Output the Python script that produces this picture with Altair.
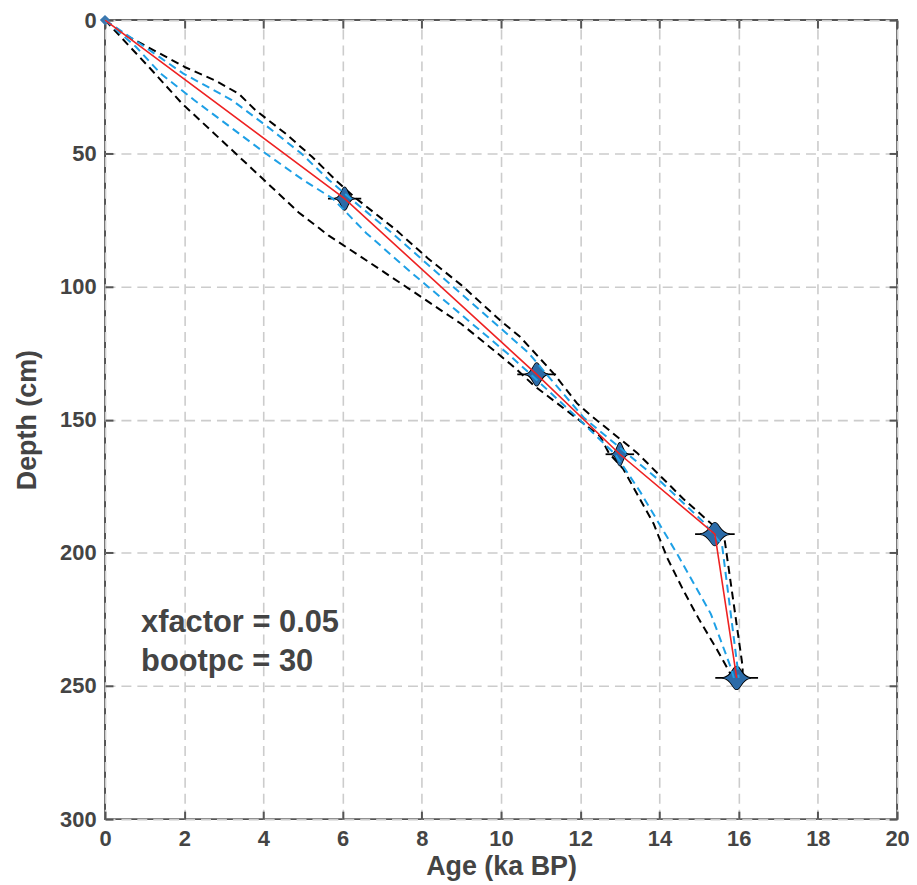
import altair as alt
import pandas as pd

# ---------------- data ----------------
# median age-depth model (red)
median_age = [0, 6.05, 10.9, 13.0, 15.4, 15.95]
median_depth = [0, 67, 133, 163, 193, 247]

# outer bootstrap bounds (black dashed)
outer_max_age = [0, 0.49, 2.04, 2.79, 3.38, 3.80, 4.55, 5.22, 5.89, 6.31, 7.31, 8.15, 8.99, 10.0, 10.48,
                 11.33, 11.92, 12.25, 13.43, 14.6, 15.35, 15.64, 16.1, 16.1]
outer_max_depth = [0, 5.4, 17.8, 22.7, 27.7, 33.8, 42.5, 51.2, 61, 66.6, 78.3, 89.4, 99.4, 113, 118.9,
                   132.7, 143.9, 148.2, 162.4, 179.7, 189.6, 194.5, 242.7, 247]
outer_min_age = [0, 1.12, 1.95, 3.38, 4.89, 5.64, 6.65, 7.65, 8.99, 9.83, 10.33, 10.83, 11.42, 12.5, 12.72,
                 13.09, 13.4, 13.85, 14.2, 14.6, 15.0, 15.44, 15.72, 15.85]
outer_min_depth = [0, 17.8, 31.4, 51.2, 72.2, 80.8, 90.7, 100.6, 114, 124.1, 130.3, 137.2, 143.9, 156.2, 162.5,
                   168.6, 177, 189, 202, 214, 225, 236, 243.5, 247]

# inner bootstrap bounds (blue dashed)
inner_max_age = [0, 1.0, 1.97, 3.2, 4.1, 4.95, 5.65, 6.2, 7.25, 8.4, 9.55, 10.7, 11.15, 12.1, 13.2, 14.05,
                 15.1, 15.58, 15.98, 16.0]
inner_max_depth = [0, 10, 20, 30, 40, 50, 60, 67, 80, 95, 110, 125, 133, 149.4, 163, 173.5,
                   188.3, 197, 244, 247]
inner_min_age = [0, 0.78, 1.4, 2.25, 3.15, 4.05, 5.0, 5.75, 6.6, 7.75, 8.95, 10.15, 10.75, 11.98, 12.88,
                 13.51, 14.47, 15.3, 15.8, 15.88]
inner_min_depth = [0, 10, 20, 30, 40, 50, 60, 67, 80, 95, 110, 125, 133, 150, 163,
                   177, 201, 223, 243, 247]

# dated levels
date_age = [6.05, 10.9, 13.0, 15.4, 15.95]
date_depth = [67, 133, 163, 193, 247]
date_err = [0.42, 0.49, 0.36, 0.5, 0.54]
date_shape_ratio = [0.85, 1.0, 0.75, 1.3, 1.25]
surface_age = [0]
surface_depth = [0]

# annotation
note_text = ["xfactor = 0.05", "bootpc = 30"]
note_age = [0.91, 0.91]
note_depth = [229.8, 244.2]

# ---------------- styles ----------------
FONT = "Liberation Sans"
TXT = "#444444"
AX = "#555555"

xs = alt.Scale(domain=[0, 20], nice=False, zero=False)
ys = alt.Scale(domain=[0, 300], reverse=True, nice=False, zero=False)


def lines_df(pairs):
    rows = []
    for name, ages, depths in pairs:
        for i, (a, d) in enumerate(zip(ages, depths)):
            rows.append({"series": name, "i": i, "age": a, "depth": d})
    return pd.DataFrame(rows)


df_outer = lines_df([("omax", outer_max_age, outer_max_depth), ("omin", outer_min_age, outer_min_depth)])
df_inner = lines_df([("imax", inner_max_age, inner_max_depth), ("imin", inner_min_age, inner_min_depth)])
df_med = lines_df([("med", median_age, median_depth)])

df_dates = pd.DataFrame({
    "id": [str(k) for k in range(len(date_age))],
    "age": date_age, "depth": date_depth,
    "lo": [a - e for a, e in zip(date_age, date_err)],
    "hi": [a + e for a, e in zip(date_age, date_err)],
})


def blob(w, h=1.0):
    return (f"M{-w},0 C{-0.35*w},{-0.06*h} {-0.28*w},{-h} 0,{-h} C{0.28*w},{-h} {0.35*w},{-0.06*h} {w},0 "
            f"C{0.35*w},{0.06*h} {0.28*w},{h} 0,{h} C{-0.28*w},{h} {-0.35*w},{0.06*h} {-w},0 Z")


def core(w, h):
    return (f"M{-w},0 C{-0.6*w},{-0.3*h} {-0.35*w},{-h} 0,{-h} C{0.35*w},{-h} {0.6*w},{-0.3*h} {w},0 "
            f"C{0.6*w},{0.3*h} {0.35*w},{h} 0,{h} C{-0.35*w},{h} {-0.6*w},{0.3*h} {-w},0 Z")


outer_paths = [blob(r) for r in date_shape_ratio]
inner_paths = [core(0.38 * r, 0.9) for r in date_shape_ratio]
ids = list(df_dates["id"])

df_surface = pd.DataFrame({"age": surface_age, "depth": surface_depth})
df_note = pd.DataFrame({"text": note_text, "age": note_age, "depth": note_depth})

lab = dict(labelFont=FONT, labelFontSize=22, labelFontWeight="bold", labelColor=TXT,
           titleFont=FONT, titleFontSize=27, titleFontWeight="bold", titleColor=TXT)
tick = dict(domain=False, ticks=True, tickSize=8, tickWidth=2, tickColor=AX, offset=-8)
grid = dict(grid=True, gridColor="#cccccc", gridDash=[10, 6], gridWidth=1.6)

x_bottom = alt.Axis(orient="bottom", values=list(range(0, 21, 2)), labelFlush=False, labelPadding=10,
                    title="Age (ka BP)", titlePadding=4, **grid, **tick, **lab)
y_left = alt.Axis(orient="left", values=list(range(0, 301, 50)), labelFlush=False, labelPadding=9,
                  title="Depth (cm)", titlePadding=18, **grid, **tick, **lab)
x_top = alt.Axis(orient="top", values=list(range(0, 21, 2)), labels=False, grid=False, title="", **tick)
y_right = alt.Axis(orient="right", values=list(range(0, 301, 50)), labels=False, grid=False, title="", **tick)

# ---------------- layers ----------------
err = alt.Chart(df_dates).mark_rule(color="black", strokeWidth=1.8).encode(
    x=alt.X("lo:Q", scale=xs, axis=None), x2="hi:Q", y=alt.Y("depth:Q", scale=ys, axis=None))

outer_blob = alt.Chart(df_dates).mark_point(filled=True, fill="#8dbbe3", stroke="black", strokeWidth=1.6,
                                            opacity=1, size=520).encode(
    x=alt.X("age:Q", scale=xs, axis=None), y=alt.Y("depth:Q", scale=ys, axis=None),
    shape=alt.Shape("id:N", scale=alt.Scale(domain=ids, range=outer_paths), legend=None))

inner_blob = alt.Chart(df_dates).mark_point(filled=True, fill="#2c6ba8", strokeWidth=0, opacity=1,
                                            size=520).encode(
    x=alt.X("age:Q", scale=xs, axis=None), y=alt.Y("depth:Q", scale=ys, axis=None),
    shape=alt.Shape("id:N", scale=alt.Scale(domain=ids, range=inner_paths), legend=None))

surface = alt.Chart(df_surface).mark_point(shape="diamond", filled=True, color="#3b78b0", opacity=1,
                                           size=110).encode(
    x=alt.X("age:Q", scale=xs, axis=None), y=alt.Y("depth:Q", scale=ys, axis=None))

outer_lines = alt.Chart(df_outer).mark_line(color="black", strokeDash=[8, 5], strokeWidth=2).encode(
    x=alt.X("age:Q", scale=xs, axis=x_bottom), y=alt.Y("depth:Q", scale=ys, axis=y_left),
    detail="series:N", order="i:Q")

inner_lines = alt.Chart(df_inner).mark_line(color="#1ea0e6", strokeDash=[8, 5], strokeWidth=2).encode(
    x=alt.X("age:Q", scale=xs, axis=None), y=alt.Y("depth:Q", scale=ys, axis=None),
    detail="series:N", order="i:Q")

med_line = alt.Chart(df_med).mark_line(color="#ee2222", strokeWidth=1.6).encode(
    x=alt.X("age:Q", scale=xs, axis=x_top), y=alt.Y("depth:Q", scale=ys, axis=y_right),
    order="i:Q")

notes = alt.Chart(df_note).mark_text(align="left", baseline="alphabetic", font=FONT, fontSize=31,
                                     fontWeight="bold", color=TXT).encode(
    x=alt.X("age:Q", scale=xs, axis=None), y=alt.Y("depth:Q", scale=ys, axis=None), text="text:N")

chart = alt.layer(outer_lines, err, outer_blob, inner_blob, surface, inner_lines, med_line, notes).resolve_axis(
    x="independent", y="independent"
).properties(
    width=796, height=803,
    autosize=alt.AutoSizeParams(type="none"),
    padding={"left": 97.5, "top": 10, "right": 12, "bottom": 60},
).configure_view(stroke=AX, strokeWidth=2)

chart.save("out.html", embed_options={"renderer": "svg", "actions": False})
